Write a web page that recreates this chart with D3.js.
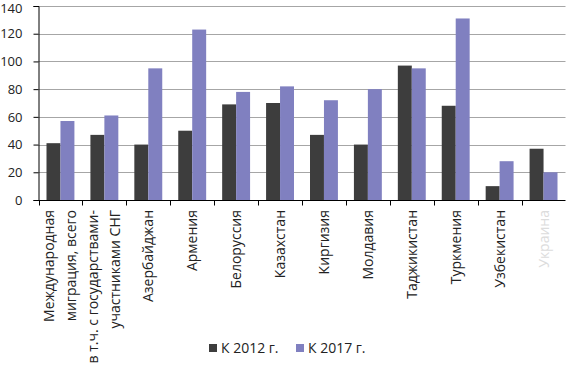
<!DOCTYPE html>
<html><head><meta charset="utf-8">
<script src="https://cdn.jsdelivr.net/npm/d3@7"></script>
<style>body{margin:0;background:#fff}svg{display:block}text{font-family:"Open Sans","Liberation Sans",sans-serif}</style>
</head><body><svg id="c" width="566" height="366"></svg>
<script>
const categories = [
  ["Международная","миграция, всего"],
  ["в т.ч. с государствами-","участниками СНГ"],
  ["Азербайджан"],["Армения"],["Белоруссия"],["Казахстан"],["Киргизия"],
  ["Молдавия"],["Таджикистан"],["Туркмения"],["Узбекистан"],["Украина"]
];
const series = ["К 2012 г.","К 2017 г."];
const values2012 = [41,47,40,50,69,70,47,40,97,68,10,37];
const values2017 = [57,61,95,123,78,82,72,80,95,131,28,20];
const yTicks = [0,20,40,60,80,100,120,140];
const colors = ["#3d3d3d","#8080c0"];

const svg = d3.select("#c");
const m = {l:38.5, r:565.5, t:6, b:200};
const x = d3.scaleBand().domain(d3.range(categories.length)).range([m.l, m.r]).paddingInner(0).paddingOuter(0);
const x1 = d3.scaleBand().domain([0,1]).range([8, x.bandwidth()-8]);
const y = d3.scaleLinear().domain([0,140]).range([m.b, m.t]);

// gridlines
svg.append("g").selectAll("line").data(yTicks.filter(d=>d>0)).join("line")
  .attr("x1", m.l).attr("x2", m.r).attr("y1", d=>Math.round(y(d))+0.5).attr("y2", d=>Math.round(y(d))+0.5)
  .attr("stroke","#a6a6a6").attr("stroke-width",1);

// bars
const data = [values2012, values2017];
const g = svg.append("g");
data.forEach((vals, s) => {
  g.selectAll(null).data(vals).join("rect")
    .attr("x", (d,i)=>x(i)+x1(s)).attr("width", x1.bandwidth())
    .attr("y", d=>y(d)).attr("height", d=>y(0)-y(d)).attr("fill", colors[s]);
});

// y axis
const ya = svg.append("g").attr("transform",`translate(${m.l},0)`)
  .call(d3.axisLeft(y).tickValues(yTicks).tickSize(5).tickPadding(11));
ya.select(".domain").attr("stroke","#000");
ya.selectAll(".tick line").attr("stroke","#000");
ya.selectAll(".tick text").attr("font-size",13).attr("fill","#222")
  .attr("dy", d => d === 140 ? "0.5em" : "0.32em");

// x axis
const xa = svg.append("g").attr("transform",`translate(0,${m.b+0.5})`);
xa.append("line").attr("x1",m.l).attr("x2",m.r).attr("stroke","#000");
xa.selectAll(".t").data(d3.range(categories.length+1)).join("line")
  .attr("x1",i=>Math.round(m.l + i*x.bandwidth())+0.5).attr("x2",i=>Math.round(m.l + i*x.bandwidth())+0.5)
  .attr("y1",0).attr("y2",5).attr("stroke","#000");

// x labels rotated
categories.forEach((lines, i) => {
  const cx = x(i) + x.bandwidth()/2;
  const n = lines.length;
  lines.forEach((ln, k) => {
    const off = (k - (n-1)/2) * 22;
    svg.append("text")
      .attr("transform",`translate(${cx + off + 5},${m.b+10}) rotate(-90)`)
      .attr("text-anchor","end").attr("font-size",14)
      .attr("fill", i===categories.length-1 ? "#dcdcdc" : "#222")
      .text(ln);
  });
});

// legend
const lg = svg.append("g");
const lx = [209, 296];
series.forEach((s,i)=>{
  lg.append("rect").attr("x",lx[i]).attr("y",344).attr("width",8).attr("height",8).attr("fill",colors[i]);
  lg.append("text").attr("x",lx[i]+12).attr("y",353).attr("font-size",14).attr("fill","#222").text(s);
});
</script></body></html>
